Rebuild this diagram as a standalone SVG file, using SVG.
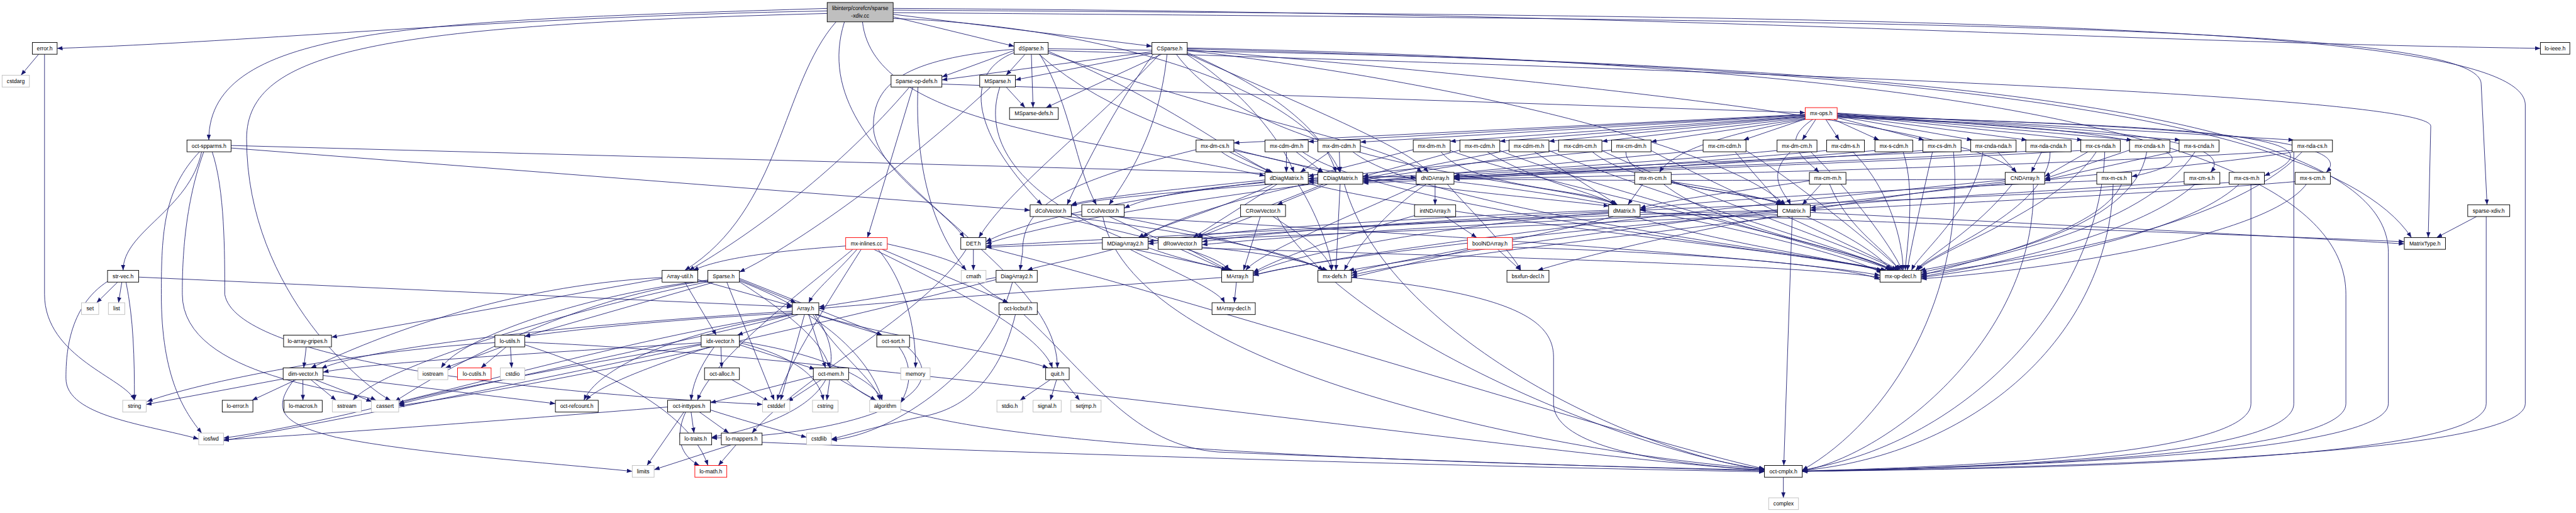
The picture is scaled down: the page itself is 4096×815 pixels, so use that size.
<svg xmlns="http://www.w3.org/2000/svg" width="4096" height="815" viewBox="0 0 4096 815">
<defs>
<marker id="a" markerUnits="userSpaceOnUse" markerWidth="14" markerHeight="10" refX="13" refY="5" orient="auto"><path d="M0,0L13,5L0,10z" fill="#191970"/></marker>
<style>
.n rect{fill:#fff;stroke:#000;stroke-width:1.4}
.x rect{stroke:#bfbfbf}
.r rect{stroke:#f00}
.root rect{fill:#bfbfbf;stroke:#000;stroke-width:1.4}
text{font-family:"Liberation Sans",Arial,sans-serif;font-size:13px;text-anchor:middle;fill:#000}
#edges path{fill:none;stroke:#191970;stroke-width:1.3;marker-end:url(#a)}
</style>
</defs>
<rect width="4096" height="815" fill="#fff"/>
<g transform="scale(0.668)">
<g id="edges">
<path d="M1969 26C1200 40 600 100 136 115"/>
<path d="M1969 20C1000 50 497 60 497 333"/>
<path d="M1969 32C900 60 587 120 587 330C587 700 880 930 930 952"/>
<path d="M1990 52C1860 200 1860 500 1630 643"/>
<path d="M2010 52C1900 400 2517 600 2517 875"/>
<path d="M2126 40L2414 110"/>
<path d="M2126 34L2742 110"/>
<path d="M2053 52C2080 300 2600 330 3011 418"/>
<path d="M2126 44C2600 60 3100 200 3190 410"/>
<path d="M2126 30C4600 50 5906 60 5906 200L5920 487"/>
<path d="M2126 24C4500 40 6011 50 6011 250L6011 960C6011 1080 5000 1110 4290 1121"/>
<path d="M2126 20C4000 30 5000 100 6047 115"/>
<path d="M92 129L50 179"/>
<path d="M106 129L106 700C106 850 300 900 320 952"/>
<path d="M480 361C450 500 293 550 293 643"/>
<path d="M475 361C390 450 384 550 384 700C384 900 440 980 480 1030"/>
<path d="M485 361C434 500 434 650 434 700C434 900 850 930 895 952"/>
<path d="M505 361C535 450 535 600 535 700C560 850 1200 930 1815 962"/>
<path d="M550 352L2452 500"/>
<path d="M550 346L3371 422"/>
<path d="M280 671L230 720"/>
<path d="M290 671L282 720"/>
<path d="M300 671C318 760 320 850 320 952"/>
<path d="M258 668C160 730 157 850 157 900C157 990 350 1010 473 1044"/>
<path d="M330 659L1886 730"/>
<path d="M729 825L723 875"/>
<path d="M680 900L348 962"/>
<path d="M705 903L600 952"/>
<path d="M721 903L721 952"/>
<path d="M740 903L800 952"/>
<path d="M750 903L885 955"/>
<path d="M700 903C640 980 680 1010 800 1040C1000 1080 1300 1100 1505 1121"/>
<path d="M769 893L1322 960"/>
<path d="M1886 740C1400 770 900 820 765 876"/>
<path d="M1900 748L1755 797"/>
<path d="M1886 744C1600 760 1400 780 1249 800"/>
<path d="M1940 748L2100 797"/>
<path d="M1945 748C2100 800 2400 840 2495 875"/>
<path d="M1925 748L1965 875"/>
<path d="M1890 748C1600 790 1420 880 1390 952"/>
<path d="M1915 748L1858 952"/>
<path d="M1935 748C2000 850 2080 900 2095 952"/>
<path d="M1886 746C1400 820 900 990 532 1042"/>
<path d="M1886 748C1600 820 1100 920 949 962"/>
<path d="M1940 748C2080 950 1800 1020 1694 1040"/>
<path d="M1661 665L1886 728"/>
<path d="M1630 671L1705 797"/>
<path d="M1576 660C1200 680 900 800 740 875"/>
<path d="M1576 662L789 802"/>
<path d="M1760 665L1895 720"/>
<path d="M1700 671L1249 800"/>
<path d="M1685 668C1400 700 1100 850 940 955"/>
<path d="M1730 671L1843 952"/>
<path d="M1685 666C1400 700 1100 800 1050 875"/>
<path d="M1760 668C2000 760 2080 880 2100 952"/>
<path d="M1685 670C1300 750 900 880 840 952"/>
<path d="M1760 662L2100 797"/>
<path d="M1760 670C1900 760 1960 820 1975 875"/>
<path d="M1195 825L1060 875"/>
<path d="M1205 825L1145 875"/>
<path d="M1215 825L1218 875"/>
<path d="M1178 815C900 830 500 900 350 955"/>
<path d="M1249 814C2000 840 3800 1100 4200 1118"/>
<path d="M1249 820C1500 900 1650 1000 1685 1107"/>
<path d="M1716 825L1718 875"/>
<path d="M1700 825C1660 880 1648 920 1645 952"/>
<path d="M1690 825C1550 870 1420 920 1395 952"/>
<path d="M1760 820L1940 878"/>
<path d="M1760 815C1900 850 1950 900 1960 952"/>
<path d="M1760 812C1950 840 2080 900 2100 952"/>
<path d="M1669 815C1300 840 900 860 769 885"/>
<path d="M1669 820C1300 900 800 1000 532 1048"/>
<path d="M1669 818C1300 880 1000 940 949 960"/>
<path d="M1742 903L1830 955"/>
<path d="M1955 903L1875 955"/>
<path d="M1975 903L1968 952"/>
<path d="M1936 895L1691 958"/>
<path d="M2000 903L2085 952"/>
<path d="M2015 903C2100 1000 2400 1080 4200 1118"/>
<path d="M1645 980L1652 1030"/>
<path d="M1665 980L1735 1030"/>
<path d="M1691 975C1800 1010 1880 1030 1920 1040"/>
<path d="M1628 980L1540 1107"/>
<path d="M1632 980C1600 1050 1630 1090 1665 1107"/>
<path d="M1589 968C1200 1000 800 1030 532 1046"/>
<path d="M1740 1058L1557 1117"/>
<path d="M1752 1058L1710 1107"/>
<path d="M1814 1052C2500 1080 3500 1110 4200 1122"/>
<path d="M2140 825C2180 880 2160 930 2144 958"/>
<path d="M2160 825C2300 950 2000 1035 1694 1042"/>
<path d="M2500 903L2428 952"/>
<path d="M2515 903L2500 952"/>
<path d="M2530 903L2570 952"/>
<path d="M2437 748C2600 900 2700 1060 2900 1075C3500 1100 4000 1115 4200 1120"/>
<path d="M2417 748C2380 900 2300 970 2200 990C2100 1010 2000 1040 1979 1044"/>
<path d="M2371 660C2200 690 2050 715 1949 730"/>
<path d="M2371 665C2000 760 1400 900 949 965"/>
<path d="M2410 671C2350 900 2100 1040 1979 1046"/>
<path d="M2908 660C2500 690 2100 720 1949 734"/>
<path d="M2943 671L2938 720"/>
<path d="M2650 593C2550 620 2480 630 2445 643"/>
<path d="M2700 593L2930 643"/>
<path d="M2690 593C2800 650 2900 690 2915 720"/>
<path d="M2317 593L2317 643"/>
<path d="M2347 588C2800 700 3900 1050 4200 1115"/>
<path d="M2300 593C2200 750 1900 900 1790 1030"/>
<path d="M2080 593C2300 700 2480 800 2505 875"/>
<path d="M2100 593L2400 720"/>
<path d="M2112 580C2200 600 2280 620 2300 643"/>
<path d="M2050 593C1950 750 1870 880 1850 952"/>
<path d="M2040 593C1990 650 1940 690 1925 720"/>
<path d="M2013 585C1800 600 1700 620 1650 643"/>
<path d="M2090 593C2180 700 2180 850 2179 875"/>
<path d="M2030 593C1900 700 1700 850 1660 952"/>
<path d="M2395 207L2440 256"/>
<path d="M2358 207C2150 400 1900 580 1760 647"/>
<path d="M2380 207C2300 450 2700 600 2935 643"/>
<path d="M2173 207L2065 565"/>
<path d="M2165 207C2000 400 1800 550 1640 643"/>
<path d="M2242 200L4297 268"/>
<path d="M2185 207C2175 450 2250 650 2400 720"/>
<path d="M2414 120L2242 183"/>
<path d="M2440 129L2395 179"/>
<path d="M2455 129L2459 256"/>
<path d="M2414 125C2300 170 2300 300 2480 487"/>
<path d="M2475 129C2550 250 2560 400 2610 487"/>
<path d="M2414 117C2150 140 2079 200 2079 300C2079 400 2250 500 2295 565"/>
<path d="M2473 129C2800 420 3500 450 3830 490"/>
<path d="M2495 126C3000 300 3300 340 3385 410"/>
<path d="M2495 120C3800 160 5786 220 5786 300L5780 565"/>
<path d="M2495 122C2800 250 2950 380 3030 410"/>
<path d="M2495 116C4500 140 5685 250 5685 600L5685 960C5685 1080 4800 1110 4290 1121"/>
<path d="M2742 123L2242 190"/>
<path d="M2742 127L2417 190"/>
<path d="M2765 129L2490 256"/>
<path d="M2745 129C2650 260 2580 400 2540 487"/>
<path d="M2778 129C2760 300 2700 400 2640 487"/>
<path d="M2760 129C2600 300 2400 450 2330 565"/>
<path d="M2826 125C3000 200 3150 300 3180 410"/>
<path d="M2826 130C2950 210 3050 330 3080 410"/>
<path d="M2826 120C3500 200 4100 350 4250 487"/>
<path d="M2826 118C3800 200 4700 300 4800 410"/>
<path d="M2800 129C3000 400 3700 430 3850 487"/>
<path d="M2826 116C4000 150 5500 200 5740 565"/>
<path d="M2826 114C4500 150 5584 300 5584 700L5584 960C5584 1080 4800 1110 4290 1121"/>
<path d="M2826 128C3100 250 3350 350 3400 410"/>
<path d="M4297 272L2937 340"/>
<path d="M4297 273L3114 337"/>
<path d="M4297 274L3238 338"/>
<path d="M4297 276L3452 336"/>
<path d="M4297 277L3570 336"/>
<path d="M4297 278L3687 336"/>
<path d="M4297 280L3813 336"/>
<path d="M4297 282L3930 337"/>
<path d="M4297 283L4150 333"/>
<path d="M4322 284L4290 333"/>
<path d="M4346 284L4378 333"/>
<path d="M4365 284L4473 333"/>
<path d="M4373 280L4580 333"/>
<path d="M4373 276L4695 333"/>
<path d="M4373 274L4825 333"/>
<path d="M4373 272L4957 333"/>
<path d="M4373 271L5075 333"/>
<path d="M4373 270L5190 333"/>
<path d="M4373 269L5460 333"/>
<path d="M4297 284C4100 320 3980 360 3950 410"/>
<path d="M4315 284C4230 340 4300 380 4330 410"/>
<path d="M4373 280C5100 300 5320 370 5074 420"/>
<path d="M4373 278C5000 300 5330 330 5262 410"/>
<path d="M4373 276C5200 300 5620 320 5390 418"/>
<path d="M4373 275C5200 300 5620 330 5537 410"/>
<path d="M2926 361L3025 410"/>
<path d="M2937 358C3050 380 3120 400 3150 410"/>
<path d="M2907 361C3100 500 4200 580 4490 643"/>
<path d="M2847 356C2500 440 2434 500 2434 600L2428 643"/>
<path d="M3062 361L3062 410"/>
<path d="M3085 361L3150 410"/>
<path d="M3100 361C3300 500 4300 600 4480 643"/>
<path d="M3165 361L3095 410"/>
<path d="M3188 361L3190 410"/>
<path d="M3220 361C3400 500 4300 600 4490 643"/>
<path d="M3364 356L3114 420"/>
<path d="M3430 361C3500 450 3800 450 3845 487"/>
<path d="M3452 358C3700 450 4400 580 4500 643"/>
<path d="M3475 357L3244 420"/>
<path d="M3540 361C3650 430 3800 460 3848 487"/>
<path d="M3570 358C3800 450 4400 600 4505 643"/>
<path d="M3592 357L3244 425"/>
<path d="M3652 361L3850 487"/>
<path d="M3687 358C3900 450 4420 600 4510 643"/>
<path d="M3710 357L3244 428"/>
<path d="M3790 361C3900 450 4200 460 4245 487"/>
<path d="M3813 358C4000 450 4450 600 4515 643"/>
<path d="M3836 357L3114 425"/>
<path d="M3870 361C3870 450 4200 460 4250 487"/>
<path d="M3930 358C4100 450 4450 600 4520 643"/>
<path d="M4054 357L3244 432"/>
<path d="M4130 361L4240 487"/>
<path d="M4156 358C4300 450 4480 600 4525 643"/>
<path d="M4230 358C3800 400 3300 420 3114 430"/>
<path d="M4262 361C4200 420 4250 460 4262 487"/>
<path d="M4310 361C4400 450 4500 580 4528 643"/>
<path d="M4348 358C3900 400 3400 425 3244 432"/>
<path d="M4410 361C4500 450 4530 580 4530 643"/>
<path d="M4463 358C4000 400 3400 430 3244 435"/>
<path d="M4530 361C4560 450 4540 580 4535 643"/>
<path d="M4577 358C4000 400 3300 430 3114 433"/>
<path d="M4650 361C4680 700 4500 1000 4290 1118"/>
<path d="M4600 361C4580 450 4550 580 4540 643"/>
<path d="M4755 361L4800 410"/>
<path d="M4691 358C4200 380 3700 400 3461 418"/>
<path d="M4720 361C4700 500 4570 600 4550 643"/>
<path d="M4860 361L4835 410"/>
<path d="M4822 360C4300 390 3700 410 3461 420"/>
<path d="M4880 361C4880 500 4600 600 4560 643"/>
<path d="M4970 361L4867 420"/>
<path d="M4953 358C4400 390 3800 410 3461 423"/>
<path d="M5010 361C5000 700 4700 1050 4290 1118"/>
<path d="M4990 361C4900 500 4600 600 4565 643"/>
<path d="M5069 357L4867 425"/>
<path d="M5110 361C5080 550 4700 620 4570 643"/>
<path d="M5187 358L4867 428"/>
<path d="M5225 361C5100 550 4700 620 4573 648"/>
<path d="M5456 358C4800 400 3800 420 3461 426"/>
<path d="M5460 361L5460 960C5460 1080 4800 1110 4290 1121"/>
<path d="M5456 362C5200 400 4900 420 4867 430"/>
<path d="M5480 361C5300 550 4800 620 4573 652"/>
<path d="M3910 438L3875 487"/>
<path d="M3978 432C4100 450 4200 470 4240 487"/>
<path d="M3960 438C4100 550 4450 600 4500 643"/>
<path d="M4335 438L4290 487"/>
<path d="M4307 430C4100 460 3950 480 3904 495"/>
<path d="M4355 438C4400 550 4500 600 4520 643"/>
<path d="M4773 428C4000 500 3200 600 2983 655"/>
<path d="M4790 438C4700 550 4600 600 4560 643"/>
<path d="M4840 438C4850 800 4500 1080 4290 1120"/>
<path d="M4773 426C4200 430 3700 430 3461 425"/>
<path d="M4773 432C4200 500 3800 600 3660 643"/>
<path d="M4773 436C4000 520 3400 610 3210 643"/>
<path d="M4991 430C4500 450 4000 480 3904 498"/>
<path d="M5030 438C5020 800 4700 1080 4290 1119"/>
<path d="M5050 438C5000 550 4700 620 4573 655"/>
<path d="M5199 432C4800 460 4400 480 4309 495"/>
<path d="M5225 438C5100 550 4800 620 4573 658"/>
<path d="M5306 434C4800 470 4100 490 3904 500"/>
<path d="M5358 438L5358 960C5358 1080 4700 1110 4290 1120"/>
<path d="M5330 438C5200 560 4800 630 4573 660"/>
<path d="M5463 432C5000 470 4500 490 4309 500"/>
<path d="M5490 438C5400 560 4900 640 4573 663"/>
<path d="M3030 438C2900 500 2750 540 2710 565"/>
<path d="M3040 438L2840 565"/>
<path d="M3011 428C2800 450 2600 470 2550 487"/>
<path d="M3011 432C2700 470 2450 520 2347 575"/>
<path d="M3090 438C3130 500 3170 600 3170 643"/>
<path d="M3137 432C2900 480 2750 540 2720 565"/>
<path d="M3150 438C3000 500 2880 540 2850 565"/>
<path d="M3160 438L3040 487"/>
<path d="M3137 428C2900 450 2600 470 2550 490"/>
<path d="M3137 425C2900 440 2750 460 2676 495"/>
<path d="M3137 436C2800 480 2500 530 2347 580"/>
<path d="M3190 438L3180 643"/>
<path d="M3200 438C3300 800 3900 1080 4200 1117"/>
<path d="M3416 438L3416 487"/>
<path d="M3380 438C3200 520 3000 600 2965 643"/>
<path d="M3395 438C3300 500 3220 600 3200 643"/>
<path d="M3445 438C3500 500 3600 600 3620 643"/>
<path d="M3461 432C3900 480 4400 600 4480 650"/>
<path d="M3440 515L3515 565"/>
<path d="M3370 512C3200 560 3050 610 2983 648"/>
<path d="M3829 505C3400 540 3050 610 2983 652"/>
<path d="M3829 500C3300 520 2900 550 2733 575"/>
<path d="M3829 503C3300 530 3000 555 2861 575"/>
<path d="M3829 508C3200 540 2600 570 2347 585"/>
<path d="M3904 505C4500 530 5400 560 5723 575"/>
<path d="M3840 515C3600 580 3300 620 3217 650"/>
<path d="M3890 515C4100 580 4400 620 4480 645"/>
<path d="M4266 515L4246 1107"/>
<path d="M4231 505C3600 560 3100 620 2983 655"/>
<path d="M4231 500C3500 520 3000 550 2733 580"/>
<path d="M4231 503C3500 530 3100 560 2861 582"/>
<path d="M4231 510C3500 545 2700 575 2347 588"/>
<path d="M4309 505C4800 530 5400 560 5723 580"/>
<path d="M4240 515C3800 570 3350 620 3217 655"/>
<path d="M4300 515C4400 560 4480 610 4500 643"/>
<path d="M2980 515L2850 565"/>
<path d="M3000 515L2960 643"/>
<path d="M3030 515C3100 560 3160 600 3170 643"/>
<path d="M3040 515C3200 800 3900 1080 4200 1116"/>
<path d="M2520 515C2700 560 2900 600 2925 643"/>
<path d="M2540 515C2900 560 3100 610 3150 643"/>
<path d="M2550 510C3500 560 4300 620 4475 655"/>
<path d="M2640 515L2920 643"/>
<path d="M2660 515C2900 560 3100 620 3160 643"/>
<path d="M2625 515C2700 900 3800 1090 4200 1115"/>
<path d="M2830 593L2925 643"/>
<path d="M2861 588C3000 600 3120 620 3150 643"/>
<path d="M2861 590C3500 610 4300 630 4475 660"/>
<path d="M3500 593L3217 660"/>
<path d="M3600 588C4000 600 4400 630 4475 665"/>
<path d="M3565 593L3620 643"/>
<path d="M5895 515L5800 565"/>
<path d="M5918 515L5918 960C5918 1100 4800 1115 4290 1121"/>
<path d="M3217 660C3600 700 3698 760 3698 850L3698 960C3698 1050 3900 1100 4200 1118"/>
<path d="M4245 1135L4245 1184"/>
</g>
<g id="n-root" class="root"><rect x="1969" y="6" width="157" height="46"/><text x="2047.5" y="24.5">libinterp/corefcn/sparse</text><text x="2047.5" y="41.5">-xdiv.cc</text></g>
<g id="n-error" class="n"><rect x="77" y="101" width="59" height="28"/><text x="106.5" y="119.5">error.h</text></g>
<g id="n-dSparse" class="n"><rect x="2414" y="101" width="81" height="28"/><text x="2454.5" y="119.5">dSparse.h</text></g>
<g id="n-CSparse" class="n"><rect x="2742" y="101" width="84" height="28"/><text x="2784" y="119.5">CSparse.h</text></g>
<g id="n-lo-ieee" class="n"><rect x="6047" y="101" width="70" height="28"/><text x="6082" y="119.5">lo-ieee.h</text></g>
<g id="n-cstdarg" class="n x"><rect x="5" y="179" width="65" height="28"/><text x="37.5" y="197.5">cstdarg</text></g>
<g id="n-Sparse-op-defs" class="n"><rect x="2121" y="179" width="121" height="28"/><text x="2181.5" y="197.5">Sparse-op-defs.h</text></g>
<g id="n-MSparse" class="n"><rect x="2332" y="179" width="85" height="28"/><text x="2374.5" y="197.5">MSparse.h</text></g>
<g id="n-MSparse-defs" class="n"><rect x="2403" y="256" width="116" height="28"/><text x="2461" y="274.5">MSparse-defs.h</text></g>
<g id="n-mx-ops" class="n r"><rect x="4297" y="256" width="76" height="28"/><text x="4335" y="274.5">mx-ops.h</text></g>
<g id="n-oct-spparms" class="n"><rect x="445" y="333" width="105" height="28"/><text x="497.5" y="351.5">oct-spparms.h</text></g>
<g id="n-mx-dm-cs" class="n"><rect x="2847" y="333" width="90" height="28"/><text x="2892" y="351.5">mx-dm-cs.h</text></g>
<g id="n-mx-cdm-dm" class="n"><rect x="3011" y="333" width="103" height="28"/><text x="3062.5" y="351.5">mx-cdm-dm.h</text></g>
<g id="n-mx-dm-cdm" class="n"><rect x="3137" y="333" width="101" height="28"/><text x="3187.5" y="351.5">mx-dm-cdm.h</text></g>
<g id="n-mx-dm-m" class="n"><rect x="3364" y="333" width="88" height="28"/><text x="3408" y="351.5">mx-dm-m.h</text></g>
<g id="n-mx-m-cdm" class="n"><rect x="3475" y="333" width="95" height="28"/><text x="3522.5" y="351.5">mx-m-cdm.h</text></g>
<g id="n-mx-cdm-m" class="n"><rect x="3592" y="333" width="95" height="28"/><text x="3639.5" y="351.5">mx-cdm-m.h</text></g>
<g id="n-mx-cdm-cm" class="n"><rect x="3710" y="333" width="103" height="28"/><text x="3761.5" y="351.5">mx-cdm-cm.h</text></g>
<g id="n-mx-cm-dm" class="n"><rect x="3836" y="333" width="94" height="28"/><text x="3883" y="351.5">mx-cm-dm.h</text></g>
<g id="n-mx-cm-cdm" class="n"><rect x="4054" y="333" width="102" height="28"/><text x="4105" y="351.5">mx-cm-cdm.h</text></g>
<g id="n-mx-dm-cm" class="n"><rect x="4230" y="333" width="95" height="28"/><text x="4277.5" y="351.5">mx-dm-cm.h</text></g>
<g id="n-mx-cdm-s" class="n"><rect x="4348" y="333" width="90" height="28"/><text x="4393" y="351.5">mx-cdm-s.h</text></g>
<g id="n-mx-s-cdm" class="n"><rect x="4463" y="333" width="90" height="28"/><text x="4508" y="351.5">mx-s-cdm.h</text></g>
<g id="n-mx-cs-dm" class="n"><rect x="4577" y="333" width="91" height="28"/><text x="4622.5" y="351.5">mx-cs-dm.h</text></g>
<g id="n-mx-cnda-nda" class="n"><rect x="4691" y="333" width="108" height="28"/><text x="4745" y="351.5">mx-cnda-nda.h</text></g>
<g id="n-mx-nda-cnda" class="n"><rect x="4822" y="333" width="108" height="28"/><text x="4876" y="351.5">mx-nda-cnda.h</text></g>
<g id="n-mx-cs-nda" class="n"><rect x="4953" y="333" width="94" height="28"/><text x="5000" y="351.5">mx-cs-nda.h</text></g>
<g id="n-mx-cnda-s" class="n"><rect x="5069" y="333" width="96" height="28"/><text x="5117" y="351.5">mx-cnda-s.h</text></g>
<g id="n-mx-s-cnda" class="n"><rect x="5187" y="333" width="95" height="28"/><text x="5234.5" y="351.5">mx-s-cnda.h</text></g>
<g id="n-mx-nda-cs" class="n"><rect x="5456" y="333" width="96" height="28"/><text x="5504" y="351.5">mx-nda-cs.h</text></g>
<g id="n-dDiagMatrix" class="n"><rect x="3011" y="410" width="103" height="28"/><text x="3062.5" y="428.5">dDiagMatrix.h</text></g>
<g id="n-CDiagMatrix" class="n"><rect x="3137" y="410" width="107" height="28"/><text x="3190.5" y="428.5">CDiagMatrix.h</text></g>
<g id="n-dNDArray" class="n"><rect x="3371" y="410" width="90" height="28"/><text x="3416" y="428.5">dNDArray.h</text></g>
<g id="n-mx-m-cm" class="n"><rect x="3891" y="410" width="87" height="28"/><text x="3934.5" y="428.5">mx-m-cm.h</text></g>
<g id="n-mx-cm-m" class="n"><rect x="4307" y="410" width="87" height="28"/><text x="4350.5" y="428.5">mx-cm-m.h</text></g>
<g id="n-CNDArray" class="n"><rect x="4773" y="410" width="94" height="28"/><text x="4820" y="428.5">CNDArray.h</text></g>
<g id="n-mx-m-cs" class="n"><rect x="4991" y="410" width="83" height="28"/><text x="5032.5" y="428.5">mx-m-cs.h</text></g>
<g id="n-mx-cm-s" class="n"><rect x="5199" y="410" width="85" height="28"/><text x="5241.5" y="428.5">mx-cm-s.h</text></g>
<g id="n-mx-cs-m" class="n"><rect x="5306" y="410" width="84" height="28"/><text x="5348" y="428.5">mx-cs-m.h</text></g>
<g id="n-mx-s-cm" class="n"><rect x="5463" y="410" width="84" height="28"/><text x="5505" y="428.5">mx-s-cm.h</text></g>
<g id="n-dColVector" class="n"><rect x="2452" y="487" width="98" height="28"/><text x="2501" y="505.5">dColVector.h</text></g>
<g id="n-CColVector" class="n"><rect x="2575" y="487" width="101" height="28"/><text x="2625.5" y="505.5">CColVector.h</text></g>
<g id="n-CRowVector" class="n"><rect x="2953" y="487" width="107" height="28"/><text x="3006.5" y="505.5">CRowVector.h</text></g>
<g id="n-intNDArray" class="n"><rect x="3367" y="487" width="98" height="28"/><text x="3416" y="505.5">intNDArray.h</text></g>
<g id="n-dMatrix" class="n"><rect x="3829" y="487" width="75" height="28"/><text x="3866.5" y="505.5">dMatrix.h</text></g>
<g id="n-CMatrix" class="n"><rect x="4231" y="487" width="78" height="28"/><text x="4270" y="505.5">CMatrix.h</text></g>
<g id="n-sparse-xdiv" class="n"><rect x="5874" y="487" width="100" height="28"/><text x="5924" y="505.5">sparse-xdiv.h</text></g>
<g id="n-mx-inlines" class="n r"><rect x="2013" y="565" width="99" height="28"/><text x="2062.5" y="583.5">mx-inlines.cc</text></g>
<g id="n-DET" class="n"><rect x="2287" y="565" width="60" height="28"/><text x="2317" y="583.5">DET.h</text></g>
<g id="n-MDiagArray2" class="n"><rect x="2624" y="565" width="109" height="28"/><text x="2678.5" y="583.5">MDiagArray2.h</text></g>
<g id="n-dRowVector" class="n"><rect x="2757" y="565" width="104" height="28"/><text x="2809" y="583.5">dRowVector.h</text></g>
<g id="n-boolNDArray" class="n r"><rect x="3493" y="565" width="107" height="28"/><text x="3546.5" y="583.5">boolNDArray.h</text></g>
<g id="n-MatrixType" class="n"><rect x="5723" y="565" width="98" height="28"/><text x="5772" y="583.5">MatrixType.h</text></g>
<g id="n-str-vec" class="n"><rect x="256" y="643" width="74" height="28"/><text x="293" y="661.5">str-vec.h</text></g>
<g id="n-Array-util" class="n"><rect x="1576" y="643" width="85" height="28"/><text x="1618.5" y="661.5">Array-util.h</text></g>
<g id="n-Sparse" class="n"><rect x="1685" y="643" width="75" height="28"/><text x="1722.5" y="661.5">Sparse.h</text></g>
<g id="n-cmath" class="n x"><rect x="2288" y="643" width="59" height="28"/><text x="2317.5" y="661.5">cmath</text></g>
<g id="n-DiagArray2" class="n"><rect x="2371" y="643" width="98" height="28"/><text x="2420" y="661.5">DiagArray2.h</text></g>
<g id="n-MArray" class="n"><rect x="2908" y="643" width="75" height="28"/><text x="2945.5" y="661.5">MArray.h</text></g>
<g id="n-mx-defs" class="n"><rect x="3137" y="643" width="80" height="28"/><text x="3177" y="661.5">mx-defs.h</text></g>
<g id="n-bsxfun-decl" class="n"><rect x="3587" y="643" width="100" height="28"/><text x="3637" y="661.5">bsxfun-decl.h</text></g>
<g id="n-mx-op-decl" class="n"><rect x="4475" y="643" width="98" height="28"/><text x="4524" y="661.5">mx-op-decl.h</text></g>
<g id="n-set" class="n x"><rect x="194" y="720" width="41" height="28"/><text x="214.5" y="738.5">set</text></g>
<g id="n-list" class="n x"><rect x="258" y="720" width="39" height="28"/><text x="277.5" y="738.5">list</text></g>
<g id="n-Array" class="n"><rect x="1886" y="720" width="63" height="28"/><text x="1917.5" y="738.5">Array.h</text></g>
<g id="n-oct-locbuf" class="n"><rect x="2378" y="720" width="91" height="28"/><text x="2423.5" y="738.5">oct-locbuf.h</text></g>
<g id="n-MArray-decl" class="n"><rect x="2885" y="720" width="103" height="28"/><text x="2936.5" y="738.5">MArray-decl.h</text></g>
<g id="n-lo-array-gripes" class="n"><rect x="675" y="797" width="114" height="28"/><text x="732" y="815.5">lo-array-gripes.h</text></g>
<g id="n-lo-utils" class="n"><rect x="1178" y="797" width="71" height="28"/><text x="1213.5" y="815.5">lo-utils.h</text></g>
<g id="n-idx-vector" class="n"><rect x="1669" y="797" width="91" height="28"/><text x="1714.5" y="815.5">idx-vector.h</text></g>
<g id="n-oct-sort" class="n"><rect x="2087" y="797" width="78" height="28"/><text x="2126" y="815.5">oct-sort.h</text></g>
<g id="n-dim-vector" class="n"><rect x="674" y="875" width="95" height="28"/><text x="721.5" y="893.5">dim-vector.h</text></g>
<g id="n-iostream" class="n x"><rect x="995" y="875" width="71" height="28"/><text x="1030.5" y="893.5">iostream</text></g>
<g id="n-lo-cutils" class="n r"><rect x="1089" y="875" width="80" height="28"/><text x="1129" y="893.5">lo-cutils.h</text></g>
<g id="n-cstdio" class="n x"><rect x="1191" y="875" width="58" height="28"/><text x="1220" y="893.5">cstdio</text></g>
<g id="n-oct-alloc" class="n"><rect x="1677" y="875" width="83" height="28"/><text x="1718.5" y="893.5">oct-alloc.h</text></g>
<g id="n-oct-mem" class="n"><rect x="1936" y="875" width="84" height="28"/><text x="1978" y="893.5">oct-mem.h</text></g>
<g id="n-memory" class="n x"><rect x="2144" y="875" width="70" height="28"/><text x="2179" y="893.5">memory</text></g>
<g id="n-quit" class="n"><rect x="2489" y="875" width="56" height="28"/><text x="2517" y="893.5">quit.h</text></g>
<g id="n-string" class="n x"><rect x="292" y="952" width="56" height="28"/><text x="320" y="970.5">string</text></g>
<g id="n-lo-error" class="n"><rect x="529" y="952" width="73" height="28"/><text x="565.5" y="970.5">lo-error.h</text></g>
<g id="n-lo-macros" class="n"><rect x="676" y="952" width="91" height="28"/><text x="721.5" y="970.5">lo-macros.h</text></g>
<g id="n-sstream" class="n x"><rect x="791" y="952" width="69" height="28"/><text x="825.5" y="970.5">sstream</text></g>
<g id="n-cassert" class="n x"><rect x="884" y="952" width="65" height="28"/><text x="916.5" y="970.5">cassert</text></g>
<g id="n-oct-refcount" class="n"><rect x="1322" y="952" width="102" height="28"/><text x="1373" y="970.5">oct-refcount.h</text></g>
<g id="n-oct-inttypes" class="n"><rect x="1589" y="952" width="102" height="28"/><text x="1640" y="970.5">oct-inttypes.h</text></g>
<g id="n-cstddef" class="n x"><rect x="1815" y="952" width="65" height="28"/><text x="1847.5" y="970.5">cstddef</text></g>
<g id="n-cstring" class="n x"><rect x="1934" y="952" width="61" height="28"/><text x="1964.5" y="970.5">cstring</text></g>
<g id="n-algorithm" class="n x"><rect x="2070" y="952" width="74" height="28"/><text x="2107" y="970.5">algorithm</text></g>
<g id="n-stdio" class="n x"><rect x="2373" y="952" width="61" height="28"/><text x="2403.5" y="970.5">stdio.h</text></g>
<g id="n-signal" class="n x"><rect x="2459" y="952" width="67" height="28"/><text x="2492.5" y="970.5">signal.h</text></g>
<g id="n-setjmp" class="n x"><rect x="2549" y="952" width="72" height="28"/><text x="2585" y="970.5">setjmp.h</text></g>
<g id="n-iosfwd" class="n x"><rect x="473" y="1030" width="59" height="28"/><text x="502.5" y="1048.5">iosfwd</text></g>
<g id="n-lo-traits" class="n"><rect x="1618" y="1030" width="76" height="28"/><text x="1656" y="1048.5">lo-traits.h</text></g>
<g id="n-lo-mappers" class="n"><rect x="1717" y="1030" width="97" height="28"/><text x="1765.5" y="1048.5">lo-mappers.h</text></g>
<g id="n-cstdlib" class="n x"><rect x="1920" y="1030" width="59" height="28"/><text x="1949.5" y="1048.5">cstdlib</text></g>
<g id="n-limits" class="n x"><rect x="1505" y="1107" width="52" height="28"/><text x="1531" y="1125.5">limits</text></g>
<g id="n-lo-math" class="n r"><rect x="1654" y="1107" width="76" height="28"/><text x="1692" y="1125.5">lo-math.h</text></g>
<g id="n-oct-cmplx" class="n"><rect x="4200" y="1107" width="90" height="28"/><text x="4245" y="1125.5">oct-cmplx.h</text></g>
<g id="n-complex" class="n x"><rect x="4210" y="1184" width="71" height="28"/><text x="4245.5" y="1202.5">complex</text></g>
</g>
</svg>
